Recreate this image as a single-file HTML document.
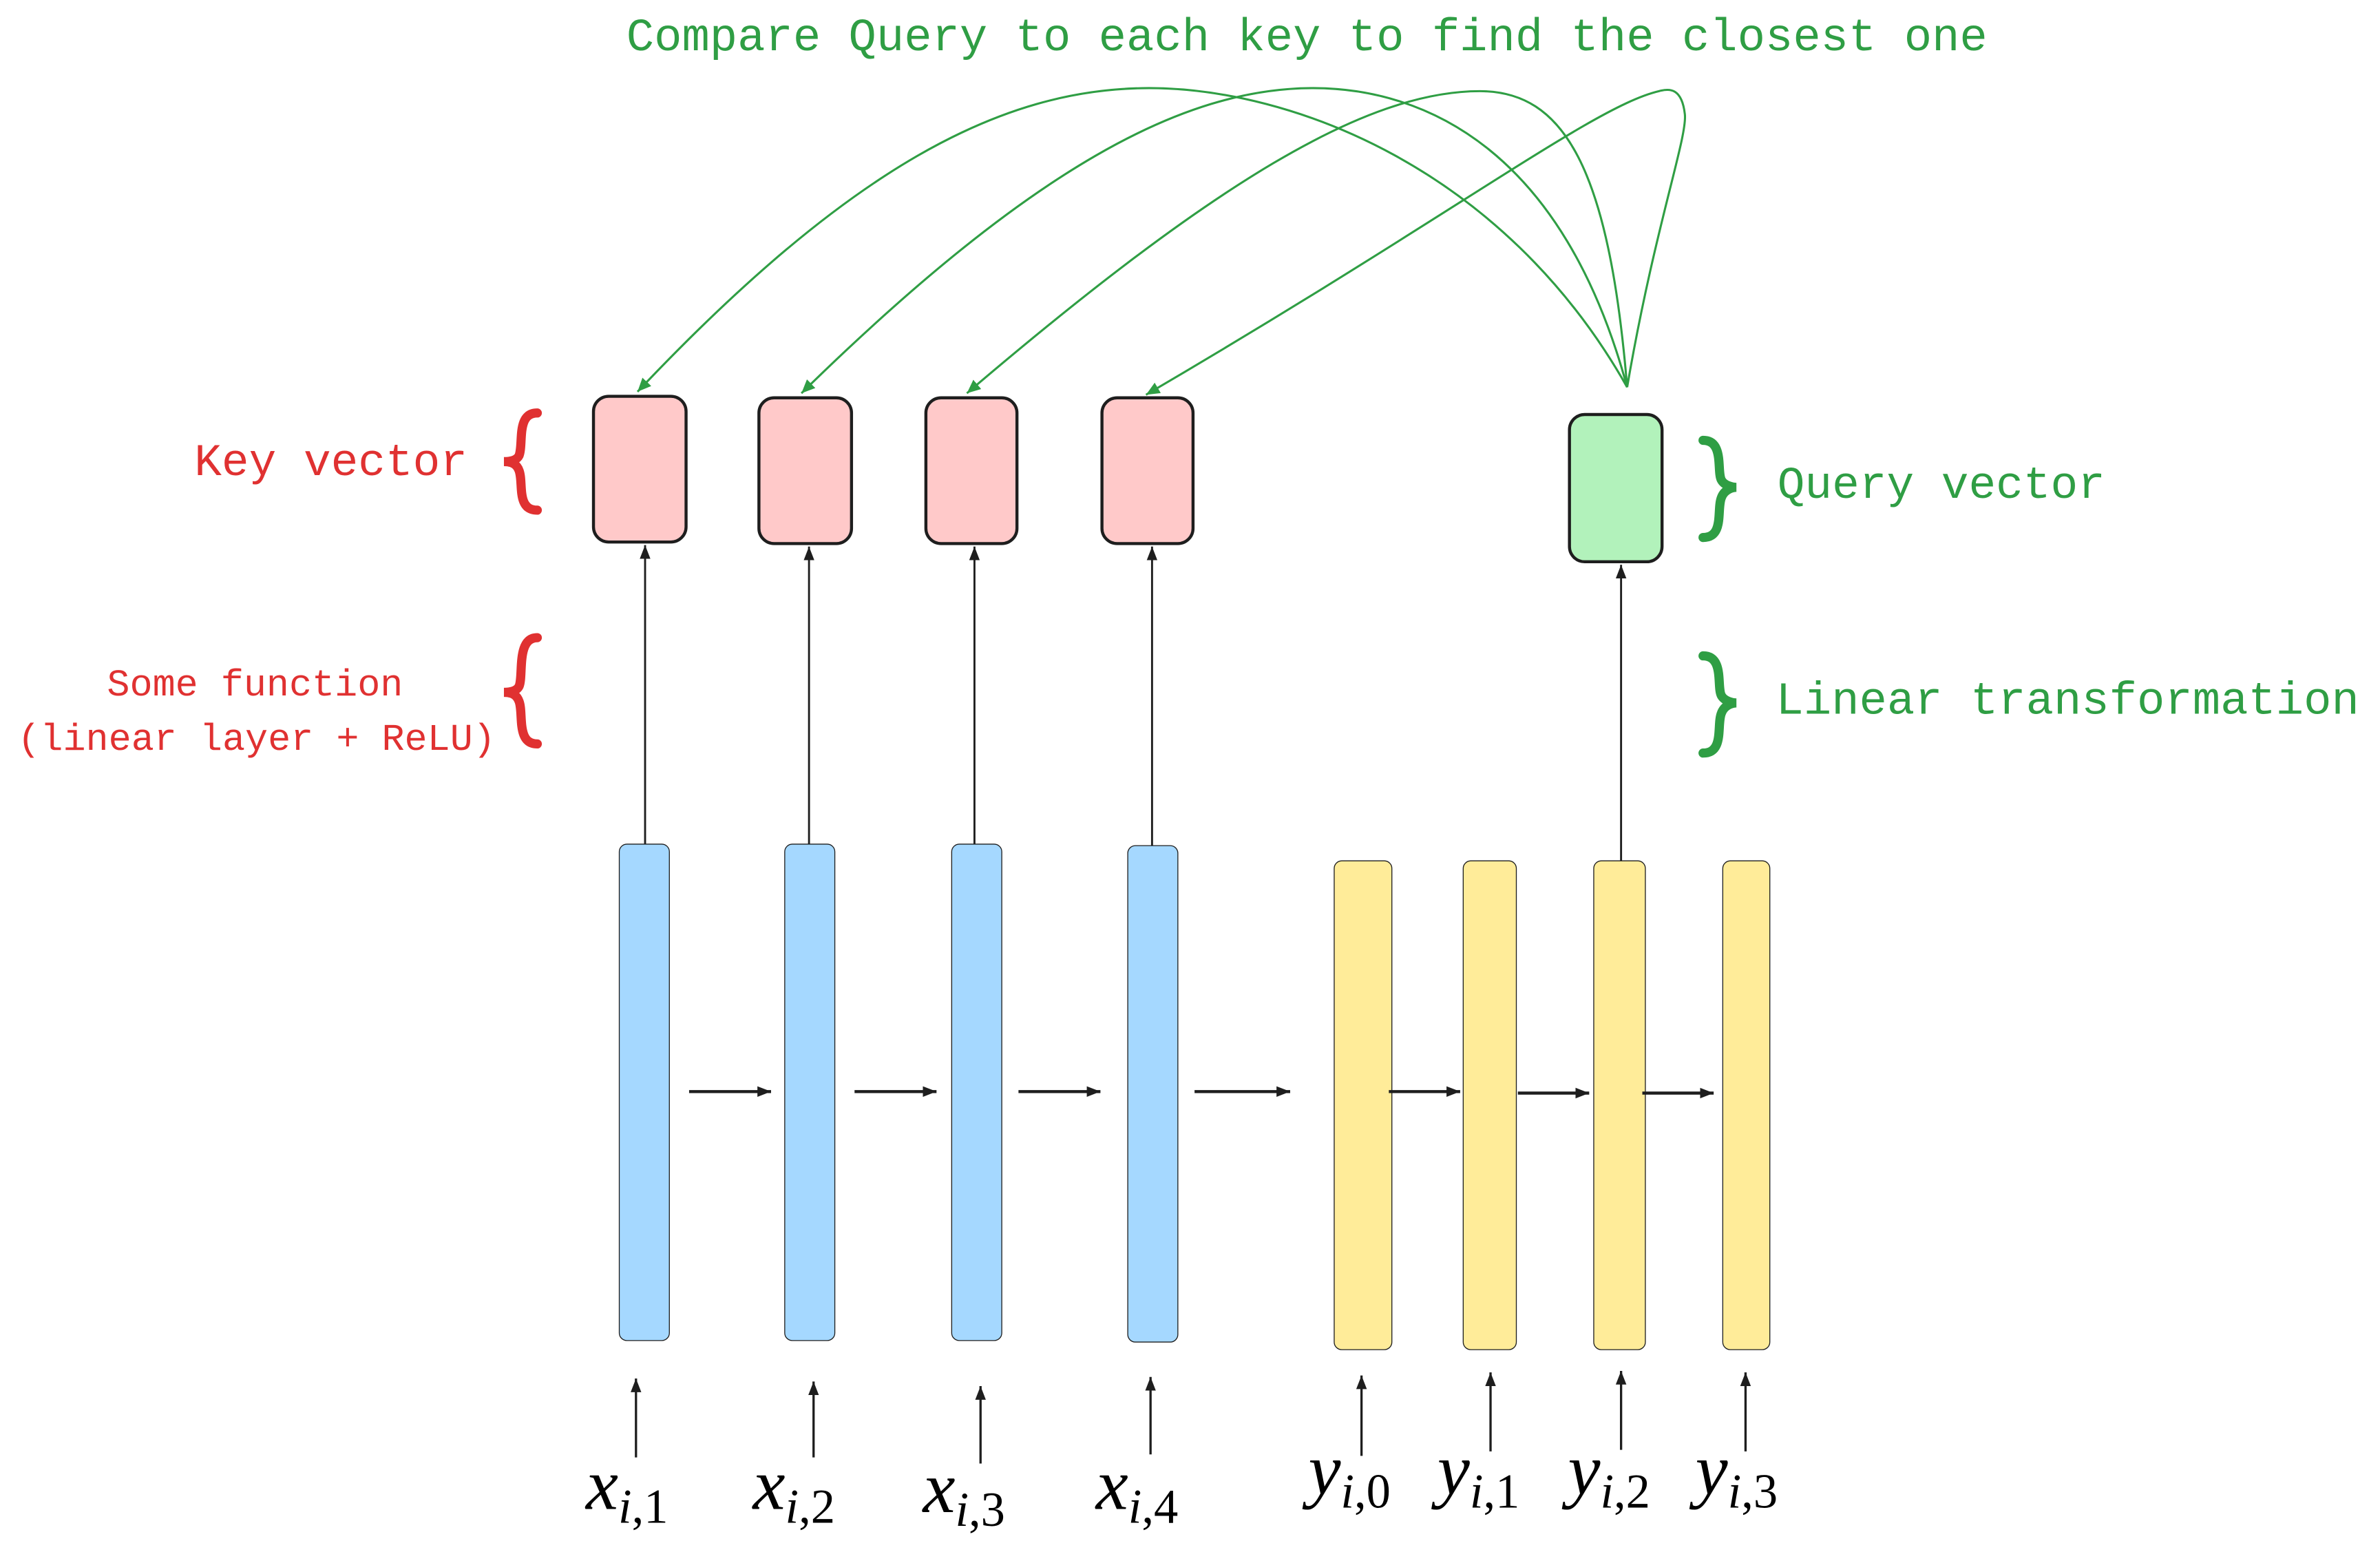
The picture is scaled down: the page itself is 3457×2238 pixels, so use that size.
<!DOCTYPE html>
<html><head><meta charset="utf-8"><style>
html,body{margin:0;padding:0;background:#fff;}
svg{display:block;}
.hand{font-family:"Liberation Mono",monospace;}
.m{font-family:"Liberation Serif",serif;}
</style></head><body>
<svg width="3457" height="2238" viewBox="0 0 1568 1015" xmlns="http://www.w3.org/2000/svg">
<defs>
<marker id="ga" markerWidth="10" markerHeight="10" refX="9" refY="5" orient="auto" markerUnits="userSpaceOnUse"><path d="M0,1 L9,5 L0,9 Z" fill="#2f9e44"/></marker>
<marker id="ka" markerWidth="10" markerHeight="10" refX="9" refY="5" orient="auto" markerUnits="userSpaceOnUse"><path d="M0,1.5 L9,5 L0,8.5 Z" fill="#1e1e1e"/></marker>
</defs>
<text class="hand" x="861" y="33" text-anchor="middle" font-size="30.5" fill="#2f9e44">Compare Query to each key to find the closest one</text>

<g fill="none" stroke="#2f9e44" stroke-width="1.4" marker-end="url(#ga)">
<path d="M1072,255 C990,110 850,58 757,58 C660,58 560,110 420,258"/>
<path d="M1072,255 C1030,100 940,58 865,58 C780,58 680,110 528,259"/>
<path d="M1072,255 C1060,110 1030,60 975,60 C900,60 800,120 637,259"/>
<path d="M1072,255 C1090,150 1112,90 1110,75 C1108,58 1100,58 1093,60 C1050,70 960,140 755,260"/>
</g>

<g stroke="#1e1e1e" stroke-width="2" fill="#ffc9c9">
<rect x="391" y="261" width="61" height="96" rx="10"/>
<rect x="500" y="262" width="61" height="96" rx="10"/>
<rect x="610" y="262" width="60" height="96" rx="10"/>
<rect x="726" y="262" width="60" height="96" rx="10"/>
<rect x="1034" y="273" width="61" height="97" rx="10" fill="#b2f2bb"/>
</g>

<text class="hand" x="308" y="313" text-anchor="end" font-size="30" fill="#e03131">Key vector</text>
<text class="hand" x="168" y="458" text-anchor="middle" font-size="25" fill="#e03131">Some function</text>
<text class="hand" x="169" y="494" text-anchor="middle" font-size="25" fill="#e03131">(linear layer + ReLU)</text>
<text class="hand" x="1171" y="328" font-size="30" fill="#2f9e44">Query vector</text>
<text class="hand" x="1170" y="470" font-size="30.5" fill="#2f9e44">Linear transformation</text>

<g fill="none" stroke-width="6" stroke-linecap="round">
<path stroke="#e03131" d="M354,272 C340,272 345,292 342,300 C340,304 334,304 332,304 C334,304 340,304 342,310 C345,318 340,336 354,336"/>
<path stroke="#e03131" d="M354,420 C340,420 345,445 342,452 C340,456 334,456 332,456 C334,456 340,456 342,462 C345,470 340,490 354,490"/>
<path stroke="#2f9e44" d="M1122,290 C1136,290 1131,310 1134,316 C1136,320 1142,321 1144,321 C1142,321 1136,322 1134,328 C1131,336 1136,354 1122,354"/>
<path stroke="#2f9e44" d="M1122,432 C1136,432 1131,452 1134,458 C1136,462 1142,463 1144,463 C1142,463 1136,464 1134,470 C1131,478 1136,496 1122,496"/>
</g>

<g stroke="#1e1e1e" stroke-width="1.3" marker-end="url(#ka)">
<line x1="425" y1="556" x2="425" y2="359"/>
<line x1="533" y1="556" x2="533" y2="360"/>
<line x1="642" y1="556" x2="642" y2="360"/>
<line x1="759" y1="557" x2="759" y2="360"/>
<line x1="1068" y1="567" x2="1068" y2="372"/>
</g>

<g stroke="#1e1e1e" stroke-width="0.6">
<rect x="408" y="556" width="33" height="327" rx="5" fill="#a5d8ff"/>
<rect x="517" y="556" width="33" height="327" rx="5" fill="#a5d8ff"/>
<rect x="627" y="556" width="33" height="327" rx="5" fill="#a5d8ff"/>
<rect x="743" y="557" width="33" height="327" rx="5" fill="#a5d8ff"/>
<rect x="879" y="567" width="38" height="322" rx="5" fill="#ffec99"/>
<rect x="964" y="567" width="35" height="322" rx="5" fill="#ffec99"/>
<rect x="1050" y="567" width="34" height="322" rx="5" fill="#ffec99"/>
<rect x="1135" y="567" width="31" height="322" rx="5" fill="#ffec99"/>
</g>

<g stroke="#1e1e1e" stroke-width="2" marker-end="url(#ka)">
<line x1="454" y1="719" x2="508" y2="719"/>
<line x1="563" y1="719" x2="617" y2="719"/>
<line x1="671" y1="719" x2="725" y2="719"/>
<line x1="787" y1="719" x2="850" y2="719"/>
<line x1="915" y1="719" x2="962" y2="719"/>
<line x1="1000" y1="720" x2="1047" y2="720"/>
<line x1="1082" y1="720" x2="1129" y2="720"/>
</g>

<g stroke="#1e1e1e" stroke-width="1.5" marker-end="url(#ka)">
<line x1="419" y1="960" x2="419" y2="908"/>
<line x1="536" y1="960" x2="536" y2="910"/>
<line x1="646" y1="964" x2="646" y2="913"/>
<line x1="758" y1="958" x2="758" y2="907"/>
<line x1="897" y1="959" x2="897" y2="906"/>
<line x1="982" y1="956" x2="982" y2="904"/>
<line x1="1068" y1="955" x2="1068" y2="903"/>
<line x1="1150" y1="956" x2="1150" y2="904"/>
</g>

<g class="m" fill="#000">
<text x="386" y="994" font-size="48"><tspan font-style="italic">x</tspan><tspan font-size="32" dy="9"><tspan font-style="italic">i</tspan>,1</tspan></text>
<text x="496" y="994" font-size="48"><tspan font-style="italic">x</tspan><tspan font-size="32" dy="9"><tspan font-style="italic">i</tspan>,2</tspan></text>
<text x="608" y="996" font-size="48"><tspan font-style="italic">x</tspan><tspan font-size="32" dy="9"><tspan font-style="italic">i</tspan>,3</tspan></text>
<text x="722" y="994" font-size="48"><tspan font-style="italic">x</tspan><tspan font-size="32" dy="9"><tspan font-style="italic">i</tspan>,4</tspan></text>
<text x="862" y="984" font-size="48"><tspan font-style="italic">y</tspan><tspan font-size="32" dy="9"><tspan font-style="italic">i</tspan>,0</tspan></text>
<text x="947" y="984" font-size="48"><tspan font-style="italic">y</tspan><tspan font-size="32" dy="9"><tspan font-style="italic">i</tspan>,1</tspan></text>
<text x="1033" y="984" font-size="48"><tspan font-style="italic">y</tspan><tspan font-size="32" dy="9"><tspan font-style="italic">i</tspan>,2</tspan></text>
<text x="1117" y="984" font-size="48"><tspan font-style="italic">y</tspan><tspan font-size="32" dy="9"><tspan font-style="italic">i</tspan>,3</tspan></text>
</g>
</svg>
</body></html>
